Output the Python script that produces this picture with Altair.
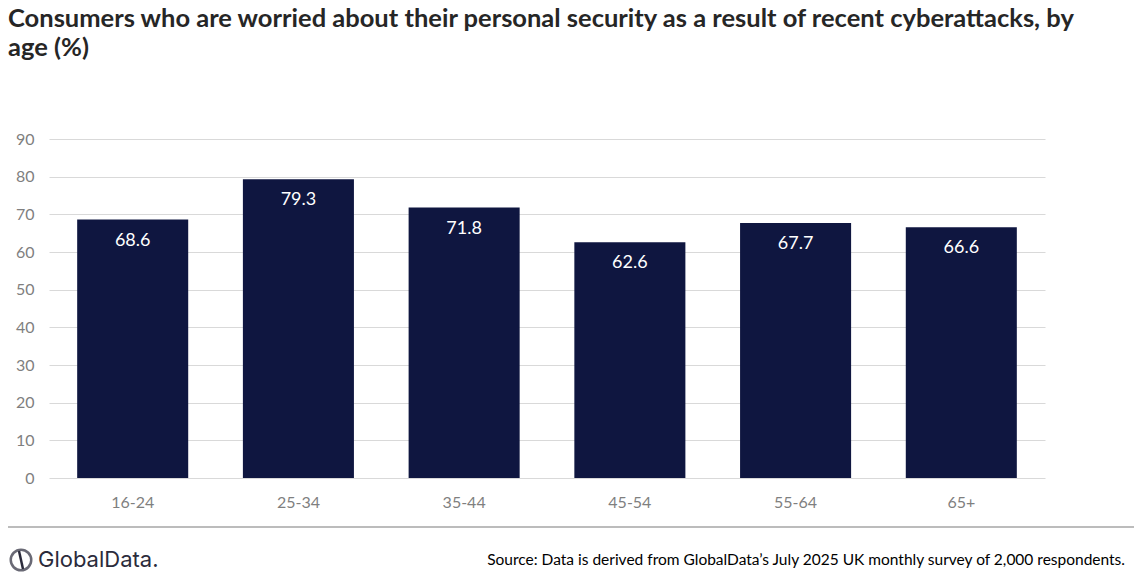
import altair as alt
import pandas as pd

# survey results by age group
ages = ["16-24", "25-34", "35-44", "45-54", "55-64", "65+"]
worried = [68.6, 79.3, 71.8, 62.6, 67.7, 66.6]

df = pd.DataFrame({"age": ages, "pct": worried})

W, H = 996, 339
FONT = "Lato"

base = alt.Chart(df).encode(
    x=alt.X("age:N", sort=ages, title=None,
            scale=alt.Scale(paddingInner=0.33, paddingOuter=0.17),
            axis=alt.Axis(labelAngle=0, labelFontSize=16, labelColor="#7f7f7f",
                          labelFont=FONT, labelPadding=16, ticks=False, domain=False)),
    y=alt.Y("pct:Q", title=None,
            scale=alt.Scale(domain=[0, 90]),
            axis=alt.Axis(values=list(range(0, 100, 10)), labelFontSize=16,
                          labelColor="#7f7f7f", labelFont=FONT, labelPadding=15,
                          ticks=False, domain=False, gridColor="#d9d9d9")),
)

bars = base.mark_bar(color="#0f1640")

labels = base.mark_text(baseline="top", dy=12, color="white", fontSize=18, font=FONT).encode(
    text=alt.Text("pct:Q", format=".1f")
)

# footer: separator, logo, source note
FY = 421
footer = alt.Chart(pd.DataFrame({"k": [0]}))
sep = footer.mark_rule(color="#a6a6a6", strokeWidth=1.5).encode(
    x=alt.value(-41), x2=alt.value(1085), y=alt.value(388)
)
logo_ring = footer.mark_point(shape="circle", filled=False, size=420, color="#2b2b3b",
                              strokeWidth=2.5).encode(x=alt.value(-28), y=alt.value(FY))
logo_slash = footer.mark_rule(color="#2b2b3b", strokeWidth=2.5).encode(
    x=alt.value(-30), x2=alt.value(-26), y=alt.value(FY - 9), y2=alt.value(FY + 9)
)
logo_text = footer.mark_text(text="GlobalData.", align="left", baseline="middle",
                             fontSize=22, font="Inter", color="#2b2b3b").encode(
    x=alt.value(-11), y=alt.value(FY)
)
source = footer.mark_text(
    text="Source: Data is derived from GlobalData\u2019s July 2025 UK monthly survey of 2,000 respondents.",
    align="right", baseline="middle", fontSize=15.5, font=FONT, color="#000000"
).encode(x=alt.value(1076), y=alt.value(FY))

chart = alt.layer(bars, labels, sep, logo_ring, logo_slash, logo_text, source).properties(
    width=W, height=H,
    autosize=alt.AutoSizeParams(type="none"),
    padding={"left": 41, "top": 131, "right": 89, "bottom": 95},
    title=alt.TitleParams(
        ["Consumers who are worried about their personal security as a result of recent cyberattacks, by",
         "age (%)"],
        anchor="start", frame="group", fontSize=25.5, font=FONT, fontWeight="bold",
        color="#262626", lineHeight=29, offset=70, dx=-41,
    ),
).configure_view(stroke=None)

chart.save("out.html", embed_options={"renderer": "svg", "actions": False})
